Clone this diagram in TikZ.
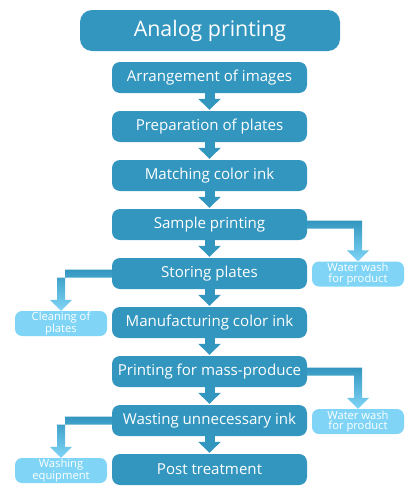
\documentclass[tikz,border=0pt]{standalone}
\usepackage{fontspec}
\setmainfont{Open Sans}
\usetikzlibrary{arrows.meta,calc}
\definecolor{mainblue}{HTML}{3396BF}
\definecolor{lightblue}{HTML}{80D5F7}
\tikzset{
  stepbox/.style={fill=mainblue,text=white,rounded corners=8pt,minimum width=195pt,minimum height=31pt,inner sep=0pt,font=\fontsize{15.1}{17}\selectfont},
  titlebox/.style={fill=mainblue,text=white,rounded corners=12pt,minimum width=260pt,minimum height=41pt,inner sep=0pt,font=\fontsize{21.4}{25}\selectfont},
  sidebox/.style={fill=lightblue,text=white,rounded corners=7pt,minimum width=92pt,minimum height=25pt,inner sep=0pt,align=center,font=\fontsize{11.2}{10.5}\selectfont},
  flow/.style={draw=mainblue,line width=10pt,-{Triangle[width=22pt,length=11pt]}},
  sideflow/.style={top color=mainblue,bottom color=lightblue,draw=none}
}
\begin{document}
\begin{tikzpicture}[x=1pt,y=1pt]
\useasboundingbox (0,0) rectangle (416,-496);
\node[titlebox] (title) at (210,-30.5) {Analog printing};
\foreach \i/\t in {1/Arrangement of images,2/Preparation of plates,3/Matching color ink,4/Sample printing,5/Storing plates,6/Manufacturing color ink,7/Printing for mass-produce,8/Wasting unnecessary ink,9/Post treatment}{
  \node[stepbox] (s\i) at (209.5,-77.5-49*\i+49) {\t};
}
\foreach \a/\b in {1/2,2/3,3/4,4/5,5/6,6/7,7/8,8/9}{
  \draw[flow] (s\a.south) -- ([yshift=1pt]s\b.north);
}
% side outputs
\node[sidebox] (wash1) at (358,-274) {Water wash\\for product};
\node[sidebox] (clean) at (61,-323.5) {Cleaning of\\plates};
\node[sidebox] (wash2) at (358,-421.5) {Water wash\\for product};
\node[sidebox] (equip) at (61,-470.5) {Washing\\equipment};
\coordinate (k1) at (wash1.north |- s4.east);
\coordinate (k2) at (clean.north |- s5.west);
\coordinate (k3) at (wash2.north |- s7.east);
\coordinate (k4) at (equip.north |- s8.west);
\foreach \n/\k/\m/\d in {s4/k1/wash1/east,s7/k3/wash2/east,s5/k2/clean/west,s8/k4/equip/west}{
  \path[sideflow] ([yshift=4pt]\n.\d) -- ([xshift=4pt,yshift=4pt]\k) -- ([xshift=4pt,yshift=11pt]\m.north)
    -- ([xshift=11pt,yshift=11pt]\m.north) -- (\m.north) -- ([xshift=-11pt,yshift=11pt]\m.north)
    -- ([xshift=-4pt,yshift=11pt]\m.north) -- ([xshift=-4pt,yshift=-4pt]\k) -- ([yshift=-4pt]\n.\d) -- cycle;
}
\end{tikzpicture}
\end{document}
